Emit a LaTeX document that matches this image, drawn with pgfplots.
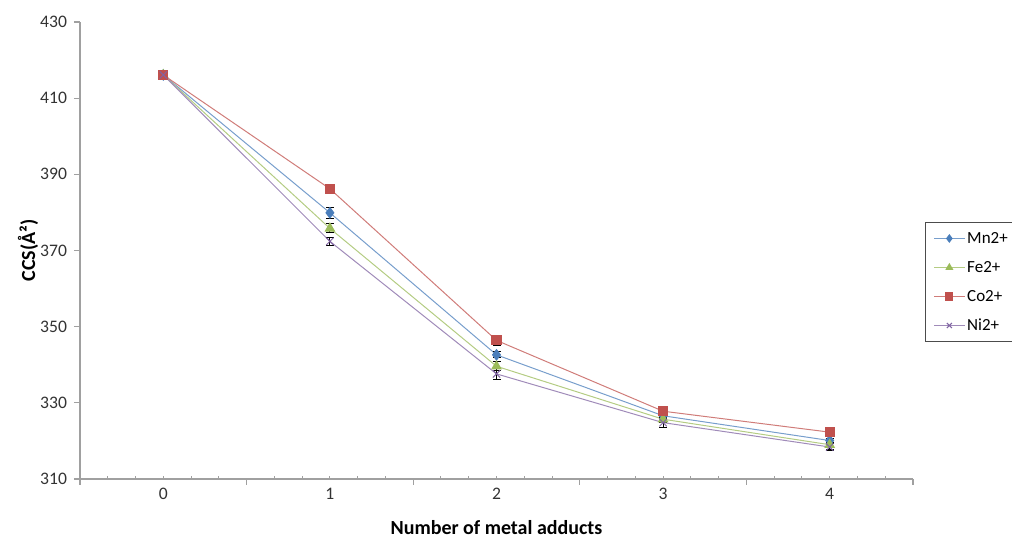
\documentclass[border=0pt]{standalone}
\usepackage{fontspec}
\setmainfont{Carlito}
\usepackage{pgfplots}
\pgfplotsset{compat=1.18}
\definecolor{mn}{RGB}{74,126,187}
\definecolor{fe}{RGB}{155,187,89}
\definecolor{co}{RGB}{192,80,77}
\definecolor{ni}{RGB}{128,100,162}
\definecolor{axgray}{RGB}{160,160,160}
\begin{document}
\begin{tikzpicture}
\path[use as bounding box] (-40pt,-30.5pt) rectangle (466pt,239.5pt);
\begin{axis}[
  at={(0,0)}, anchor=south west,
  scale only axis, width=416.5pt, height=228.5pt,
  xmin=-0.5, xmax=4.5, ymin=310, ymax=430,
  axis x line*=bottom, axis y line*=left,
  axis line style={-, axgray, line width=0.6pt},
  xtick={-0.5,0.5,1.5,2.5,3.5,4.5}, xticklabels={},
  extra x ticks={0,1,2,3,4},
  extra x tick labels={0,1,2,3,4},
  extra x tick style={major tick length=0pt, tick style={draw=none}, xticklabel style={yshift=-1pt}},
  minor xtick={-0.33333,-0.16667,0,0.16667,0.33333,0.66667,0.83333,1,1.16667,1.33333,1.66667,1.83333,2,2.16667,2.33333,2.66667,2.83333,3,3.16667,3.33333,3.66667,3.83333,4,4.16667,4.33333},
  minor x tick style={axgray, line width=0.5pt, yshift=1.5pt},
  minor tick length=1.5pt,
  ytick={310,330,...,430},
  tick style={axgray, line width=0.6pt},
  major tick length=3pt,
  tick align=outside,
  /pgf/number format/assume math mode=true,
  ticklabel style={font=\fontsize{8.8}{10}\selectfont, text=black!80},
  xlabel={Number of metal adducts},
  ylabel={CCS(Å²)},
  xlabel style={font=\fontsize{10}{12}\selectfont\bfseries, at={(axis description cs:0.5,-0.107)}, anchor=center},
  ylabel style={font=\fontsize{10}{12}\selectfont\bfseries, at={(axis description cs:-0.0624,0.5)}, anchor=center},
  legend style={at={(axis description cs:1.0144,0.5624)}, anchor=north west,
    draw=black!70, line width=0.5pt, inner xsep=4pt, inner ysep=3pt,
    font=\fontsize{8.5}{10}\selectfont, row sep=4.5pt,
    nodes={inner sep=1pt, text height=6.5pt, text depth=1.5pt}},
  legend cell align=left,
  legend image code/.code={\draw[mark repeat=2,mark phase=2, mark size=1.8pt] plot coordinates {(0cm,0cm)(0.27cm,0cm)(0.54cm,0cm)};},
  error bars/error bar style={black, line width=0.5pt},
  error bars/error mark options={black, line width=0.5pt, mark size=2pt, rotate=90},
  clip=false,
]
\addplot[mn!75, line width=0.5pt, mark=diamond*, mark size=2.6pt, mark options={fill=mn, draw=mn},
  error bars/.cd, y dir=both, y explicit] table[x=x, y=y, y error=e] {
x y e
0 416.1 0
1 379.9 1.5
2 342.6 0.8
3 326.6 0.6
4 320.1 0.6
};
\addlegendentry{Mn2+}
\addplot[fe!75, line width=0.5pt, mark=triangle*, mark size=2.6pt, mark options={fill=fe, draw=fe},
  error bars/.cd, y dir=both, y explicit] table[x=x, y=y, y error=e] {
x y e
0 416.1 0
1 375.8 1.2
2 339.6 1.2
3 325.7 0.8
4 319.0 1.2
};
\addlegendentry{Fe2+}
\addplot[co!75, line width=0.5pt, mark=square*, mark size=2.3pt, mark options={fill=co, draw=co},
  error bars/.cd, y dir=both, y explicit] table[x=x, y=y, y error=e] {
x y e
0 416.1 0
1 386.2 1.2
2 346.4 1.3
3 327.8 0.8
4 322.3 0.5
};
\addlegendentry{Co2+}
\addplot[ni!75, line width=0.5pt, mark=x, mark size=2.6pt, mark options={draw=ni},
  error bars/.cd, y dir=both, y explicit] table[x=x, y=y, y error=e] {
x y e
0 416.1 0
1 372.4 1.0
2 337.6 1.4
3 324.8 1.3
4 318.4 0.9
};
\addlegendentry{Ni2+}
\end{axis}
\end{tikzpicture}
\end{document}
